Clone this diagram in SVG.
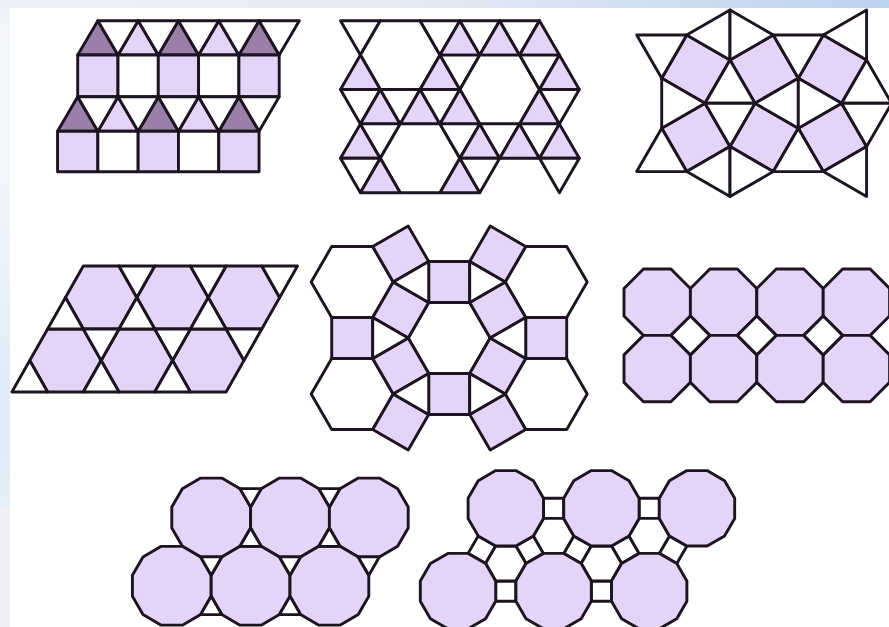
<svg xmlns="http://www.w3.org/2000/svg" xmlns:xlink="http://www.w3.org/1999/xlink" width="889" height="627" viewBox="0 0 889 627">
<defs>
<linearGradient id="topband" x1="0" y1="0" x2="1" y2="0">
<stop offset="0" stop-color="#eef1f7"/>
<stop offset="0.45" stop-color="#e6ebf4"/>
<stop offset="1" stop-color="#bcd3ef"/>
</linearGradient>
<linearGradient id="leftband" x1="0" y1="0" x2="0" y2="1">
<stop offset="0" stop-color="#eceff6"/>
<stop offset="0.05" stop-color="#f4f6fa"/>
<stop offset="0.28" stop-color="#f3f6fb"/>
<stop offset="0.65" stop-color="#dfebf9"/>
<stop offset="0.805" stop-color="#e6eff9"/>
<stop offset="0.81" stop-color="#f0f0f6"/>
<stop offset="1" stop-color="#eeeef5"/>
</linearGradient>
<polygon id="dod7" points="39.4,10.56 28.84,28.84 10.56,39.4 -10.56,39.4 -28.84,28.84 -39.4,10.56 -39.4,-10.56 -28.84,-28.84 -10.56,-39.4 10.56,-39.4 28.84,-28.84 39.4,-10.56"/>
<polygon id="dod8" points="37.69,10.1 27.59,27.59 10.1,37.69 -10.1,37.69 -27.59,27.59 -37.69,10.1 -37.69,-10.1 -27.59,-27.59 -10.1,-37.69 10.1,-37.69 27.59,-27.59 37.69,-10.1"/>
<polygon id="oct" points="13.75,-33.2 33.2,-13.75 33.2,13.75 13.75,33.2 -13.75,33.2 -33.2,13.75 -33.2,-13.75 -13.75,-33.2"/>
<polygon id="dia" points="0,-19.45 19.45,0 0,19.45 -19.45,0"/>
<rect id="sq8" x="-10.1" y="-10.1" width="20.2" height="20.2"/>
<polygon id="hex8" points="20.2,0 10.1,-17.49 -10.1,-17.49 -20.2,0 -10.1,17.49 10.1,17.49"/>
</defs>
<style>
.t{stroke:#1c1420;stroke-width:2.9;stroke-linejoin:round}
.p{fill:#e4d4f7}
.d{fill:#9a7fa9}
.w{fill:#ffffff}
</style>
<rect x="0" y="0" width="889" height="627" fill="#ffffff"/>
<rect x="0" y="0" width="889" height="8" fill="url(#topband)"/>
<rect x="0" y="0" width="10" height="627" fill="url(#leftband)"/>

<g id="tiling-squares-triangles" class="t">
<polygon class="d" points="77.7,55 118,55 97.85,20.7"/>
<polygon class="p" points="118,55 158.3,55 138.15,20.7"/>
<polygon class="d" points="158.3,55 198.6,55 178.45,20.7"/>
<polygon class="p" points="198.6,55 238.9,55 218.75,20.7"/>
<polygon class="d" points="238.9,55 279.2,55 259.05,20.7"/>
<polygon class="w" points="97.85,20.7 138.15,20.7 118,55"/>
<polygon class="w" points="138.15,20.7 178.45,20.7 158.3,55"/>
<polygon class="w" points="178.45,20.7 218.75,20.7 198.6,55"/>
<polygon class="w" points="218.75,20.7 259.05,20.7 238.9,55"/>
<polygon class="w" points="259.05,20.7 299.35,20.7 279.2,55"/>
<rect class="p" x="77.7" y="55" width="40.3" height="41.7"/>
<rect class="w" x="118" y="55" width="40.3" height="41.7"/>
<rect class="p" x="158.3" y="55" width="40.3" height="41.7"/>
<rect class="w" x="198.6" y="55" width="40.3" height="41.7"/>
<rect class="p" x="238.9" y="55" width="40.3" height="41.7"/>
<polygon class="d" points="57.55,131.3 97.85,131.3 77.7,96.7"/>
<polygon class="p" points="97.85,131.3 138.15,131.3 118,96.7"/>
<polygon class="d" points="138.15,131.3 178.45,131.3 158.3,96.7"/>
<polygon class="p" points="178.45,131.3 218.75,131.3 198.6,96.7"/>
<polygon class="d" points="218.75,131.3 259.05,131.3 238.9,96.7"/>
<polygon class="w" points="77.7,96.7 118,96.7 97.85,131.3"/>
<polygon class="w" points="118,96.7 158.3,96.7 138.15,131.3"/>
<polygon class="w" points="158.3,96.7 198.6,96.7 178.45,131.3"/>
<polygon class="w" points="198.6,96.7 238.9,96.7 218.75,131.3"/>
<polygon class="w" points="238.9,96.7 279.2,96.7 259.05,131.3"/>
<rect class="p" x="57.55" y="131.3" width="40.3" height="40.4"/>
<rect class="w" x="97.85" y="131.3" width="40.3" height="40.4"/>
<rect class="p" x="138.15" y="131.3" width="40.3" height="40.4"/>
<rect class="w" x="178.45" y="131.3" width="40.3" height="40.4"/>
<rect class="p" x="218.75" y="131.3" width="40.3" height="40.4"/>
</g>

<g id="tiling-hexagons-triangles" class="t">
<polygon class="w" points="340.5,20.7 380.3,20.7 360.4,55.1"/>
<polygon class="w" points="380.3,20.7 420.1,20.7 440,55.1 420.1,89.5 380.3,89.5 360.4,55.1"/>
<polygon class="w" points="420.1,20.7 459.9,20.7 440,55.1"/>
<polygon class="p" points="459.9,20.7 479.8,55.1 440,55.1"/>
<polygon class="w" points="459.9,20.7 499.7,20.7 479.8,55.1"/>
<polygon class="p" points="499.7,20.7 519.6,55.1 479.8,55.1"/>
<polygon class="w" points="499.7,20.7 539.5,20.7 519.6,55.1"/>
<polygon class="p" points="539.5,20.7 559.4,55.1 519.6,55.1"/>
<polygon class="p" points="360.4,55.1 380.3,89.5 340.5,89.5"/>
<polygon class="p" points="440,55.1 459.9,89.5 420.1,89.5"/>
<polygon class="w" points="440,55.1 479.8,55.1 459.9,89.5"/>
<polygon class="w" points="479.8,55.1 519.6,55.1 539.5,89.5 519.6,123.9 479.8,123.9 459.9,89.5"/>
<polygon class="w" points="519.6,55.1 559.4,55.1 539.5,89.5"/>
<polygon class="p" points="559.4,55.1 579.3,89.5 539.5,89.5"/>
<polygon class="w" points="340.5,89.5 380.3,89.5 360.4,123.9"/>
<polygon class="p" points="380.3,89.5 400.2,123.9 360.4,123.9"/>
<polygon class="w" points="380.3,89.5 420.1,89.5 400.2,123.9"/>
<polygon class="p" points="420.1,89.5 440,123.9 400.2,123.9"/>
<polygon class="w" points="420.1,89.5 459.9,89.5 440,123.9"/>
<polygon class="p" points="459.9,89.5 479.8,123.9 440,123.9"/>
<polygon class="p" points="539.5,89.5 559.4,123.9 519.6,123.9"/>
<polygon class="w" points="539.5,89.5 579.3,89.5 559.4,123.9"/>
<polygon class="p" points="360.4,123.9 380.3,158.3 340.5,158.3"/>
<polygon class="w" points="360.4,123.9 400.2,123.9 380.3,158.3"/>
<polygon class="w" points="400.2,123.9 440,123.9 459.9,158.3 440,192.7 400.2,192.7 380.3,158.3"/>
<polygon class="w" points="440,123.9 479.8,123.9 459.9,158.3"/>
<polygon class="p" points="479.8,123.9 499.7,158.3 459.9,158.3"/>
<polygon class="w" points="479.8,123.9 519.6,123.9 499.7,158.3"/>
<polygon class="p" points="519.6,123.9 539.5,158.3 499.7,158.3"/>
<polygon class="w" points="519.6,123.9 559.4,123.9 539.5,158.3"/>
<polygon class="p" points="559.4,123.9 579.3,158.3 539.5,158.3"/>
<polygon class="w" points="340.5,158.3 380.3,158.3 360.4,192.7"/>
<polygon class="p" points="380.3,158.3 400.2,192.7 360.4,192.7"/>
<polygon class="p" points="459.9,158.3 479.8,192.7 440,192.7"/>
<polygon class="w" points="459.9,158.3 499.7,158.3 479.8,192.7"/>
<polygon class="w" points="539.5,158.3 579.3,158.3 559.4,192.7"/>
</g>

<g id="tiling-snub-square" class="t">
<polygon class="p" points="686.7,35 730,60 705,103.3 661.7,78.3"/>
<polygon class="p" points="730,60 773.3,35 798.3,78.3 755,103.3"/>
<polygon class="p" points="823.3,35 866.6,60 841.6,103.3 798.3,78.3"/>
<polygon class="p" points="661.7,128.3 705,103.3 730,146.6 686.7,171.6"/>
<polygon class="p" points="755,103.3 798.3,128.3 773.3,171.6 730,146.6"/>
<polygon class="p" points="798.3,128.3 841.6,103.3 866.6,146.6 823.3,171.6"/>
<polygon class="w" points="636.7,35 686.7,35 661.7,78.3"/>
<polygon class="w" points="730,10 686.7,35 730,60"/>
<polygon class="w" points="730,10 730,60 773.3,35"/>
<polygon class="w" points="773.3,35 823.3,35 798.3,78.3"/>
<polygon class="w" points="823.3,35 866.6,10 866.6,60"/>
<polygon class="w" points="661.7,78.3 705,103.3 661.7,128.3"/>
<polygon class="w" points="730,60 705,103.3 755,103.3"/>
<polygon class="w" points="755,103.3 798.3,78.3 798.3,128.3"/>
<polygon class="w" points="798.3,78.3 841.6,103.3 798.3,128.3"/>
<polygon class="w" points="866.6,60 841.6,103.3 891.6,103.3"/>
<polygon class="w" points="705,103.3 755,103.3 730,146.6"/>
<polygon class="w" points="661.7,128.3 686.7,171.6 636.7,171.6"/>
<polygon class="w" points="686.7,171.6 730,146.6 730,196.6"/>
<polygon class="w" points="730,146.6 773.3,171.6 730,196.6"/>
<polygon class="w" points="798.3,128.3 823.3,171.6 773.3,171.6"/>
<polygon class="w" points="841.6,103.3 891.6,103.3 866.6,146.6"/>
<polygon class="w" points="823.3,171.6 866.6,146.6 866.6,196.6"/>
</g>

<g id="tiling-trihexagonal" class="t">
<polygon class="p" points="83.3,266 119,266 136.85,297.5 119,329 83.3,329 65.45,297.5"/>
<polygon class="p" points="154.7,266 190.4,266 208.25,297.5 190.4,329 154.7,329 136.85,297.5"/>
<polygon class="p" points="226.1,266 261.8,266 279.65,297.5 261.8,329 226.1,329 208.25,297.5"/>
<polygon class="p" points="47.6,329 83.3,329 101.15,360.5 83.3,392 47.6,392 29.75,360.5"/>
<polygon class="p" points="119,329 154.7,329 172.55,360.5 154.7,392 119,392 101.15,360.5"/>
<polygon class="p" points="190.4,329 226.1,329 243.95,360.5 226.1,392 190.4,392 172.55,360.5"/>
<polygon class="w" points="119,266 154.7,266 136.85,297.5"/>
<polygon class="w" points="190.4,266 226.1,266 208.25,297.5"/>
<polygon class="w" points="261.8,266 297.5,266 279.65,297.5"/>
<polygon class="w" points="65.45,297.5 83.3,329 47.6,329"/>
<polygon class="w" points="136.85,297.5 154.7,329 119,329"/>
<polygon class="w" points="208.25,297.5 226.1,329 190.4,329"/>
<polygon class="w" points="83.3,329 119,329 101.15,360.5"/>
<polygon class="w" points="154.7,329 190.4,329 172.55,360.5"/>
<polygon class="w" points="226.1,329 261.8,329 243.95,360.5"/>
<polygon class="w" points="29.75,360.5 47.6,392 11.9,392"/>
<polygon class="w" points="101.15,360.5 119,392 83.3,392"/>
<polygon class="w" points="172.55,360.5 190.4,392 154.7,392"/>
</g>

<g id="tiling-rhombitrihexagonal" class="t">
<polygon class="w" points="490.2,338 469.7,302.5 428.7,302.5 408.2,338 428.7,373.5 469.7,373.5"/>
<polygon class="w" points="393.2,282 372.7,246.5 331.7,246.5 311.2,282 331.7,317.5 372.7,317.5"/>
<polygon class="w" points="587.2,282 566.7,246.5 525.7,246.5 505.2,282 525.7,317.5 566.7,317.5"/>
<polygon class="w" points="393.2,394 372.7,358.5 331.7,358.5 311.2,394 331.7,429.5 372.7,429.5"/>
<polygon class="w" points="587.2,394 566.7,358.5 525.7,358.5 505.2,394 525.7,429.5 566.7,429.5"/>
<polygon class="p" points="428.7,261.5 469.7,261.5 469.7,302.5 428.7,302.5"/>
<polygon class="p" points="428.7,373.5 469.7,373.5 469.7,414.5 428.7,414.5"/>
<polygon class="p" points="428.7,302.5 408.2,338 372.7,317.5 393.2,282"/>
<polygon class="p" points="469.7,302.5 490.2,338 525.7,317.5 505.2,282"/>
<polygon class="p" points="408.2,338 428.7,373.5 393.2,394 372.7,358.5"/>
<polygon class="p" points="469.7,373.5 490.2,338 525.7,358.5 505.2,394"/>
<polygon class="p" points="331.7,317.5 372.7,317.5 372.7,358.5 331.7,358.5"/>
<polygon class="p" points="525.7,317.5 566.7,317.5 566.7,358.5 525.7,358.5"/>
<polygon class="p" points="372.7,246.5 408.2,226 428.7,261.5 393.2,282"/>
<polygon class="p" points="525.7,246.5 490.2,226 469.7,261.5 505.2,282"/>
<polygon class="p" points="393.2,394 428.7,414.5 408.2,450 372.7,429.5"/>
<polygon class="p" points="505.2,394 469.7,414.5 490.2,450 525.7,429.5"/>
<polygon class="w" points="428.7,302.5 428.7,261.5 393.2,282"/>
<polygon class="w" points="469.7,302.5 469.7,261.5 505.2,282"/>
<polygon class="w" points="408.2,338 372.7,317.5 372.7,358.5"/>
<polygon class="w" points="490.2,338 525.7,317.5 525.7,358.5"/>
<polygon class="w" points="428.7,373.5 428.7,414.5 393.2,394"/>
<polygon class="w" points="469.7,373.5 469.7,414.5 505.2,394"/>
</g>

<g id="tiling-truncated-square" class="t">
<use class="p" href="#oct" x="657.2" y="302.2"/>
<use class="p" href="#oct" x="723.6" y="302.2"/>
<use class="p" href="#oct" x="790" y="302.2"/>
<use class="p" href="#oct" x="856.4" y="302.2"/>
<use class="p" href="#oct" x="657.2" y="368.6"/>
<use class="p" href="#oct" x="723.6" y="368.6"/>
<use class="p" href="#oct" x="790" y="368.6"/>
<use class="p" href="#oct" x="856.4" y="368.6"/>
<use class="w" href="#dia" x="690.4" y="335.4"/>
<use class="w" href="#dia" x="756.8" y="335.4"/>
<use class="w" href="#dia" x="823.2" y="335.4"/>
</g>

<g id="tiling-truncated-hexagonal" class="t">
<use class="p" href="#dod7" x="211.2" y="517.5"/>
<use class="p" href="#dod7" x="290" y="517.5"/>
<use class="p" href="#dod7" x="368.8" y="517.5"/>
<use class="p" href="#dod7" x="171.8" y="585.74"/>
<use class="p" href="#dod7" x="250.6" y="585.74"/>
<use class="p" href="#dod7" x="329.4" y="585.74"/>
<polygon class="w" points="240.04,488.66 261.16,488.66 250.6,506.94"/>
<polygon class="w" points="318.84,488.66 339.96,488.66 329.4,506.94"/>
<polygon class="w" points="250.6,528.06 261.16,546.34 240.04,546.34"/>
<polygon class="w" points="329.4,528.06 339.96,546.34 318.84,546.34"/>
<polygon class="w" points="200.64,556.9 221.76,556.9 211.2,575.18"/>
<polygon class="w" points="279.44,556.9 300.56,556.9 290,575.18"/>
<polygon class="w" points="358.24,556.9 379.36,556.9 368.8,575.18"/>
<polygon class="w" points="211.2,596.3 221.76,614.58 200.64,614.58"/>
<polygon class="w" points="290,596.3 300.56,614.58 279.44,614.58"/>
</g>

<g id="tiling-truncated-trihexagonal" class="t">
<use class="w" href="#sq8" x="553.6" y="508.3"/>
<use class="w" href="#sq8" x="649.2" y="508.3"/>
<use class="w" href="#sq8" x="505.8" y="591.1"/>
<use class="w" href="#sq8" x="601.4" y="591.1"/>
<use class="w" href="#sq8" transform="translate(481.9,549.7) rotate(30)"/>
<use class="w" href="#sq8" transform="translate(577.5,549.7) rotate(30)"/>
<use class="w" href="#sq8" transform="translate(673.1,549.7) rotate(30)"/>
<use class="w" href="#sq8" transform="translate(529.7,549.7) rotate(-30)"/>
<use class="w" href="#sq8" transform="translate(625.3,549.7) rotate(-30)"/>
<use class="w" href="#hex8" x="553.6" y="535.9"/>
<use class="w" href="#hex8" x="649.2" y="535.9"/>
<use class="w" href="#hex8" x="505.8" y="563.5"/>
<use class="w" href="#hex8" x="601.4" y="563.5"/>
<use class="p" href="#dod8" x="505.8" y="508.3"/>
<use class="p" href="#dod8" x="601.4" y="508.3"/>
<use class="p" href="#dod8" x="697" y="508.3"/>
<use class="p" href="#dod8" x="458" y="591.1"/>
<use class="p" href="#dod8" x="553.6" y="591.1"/>
<use class="p" href="#dod8" x="649.2" y="591.1"/>
</g>
</svg>
